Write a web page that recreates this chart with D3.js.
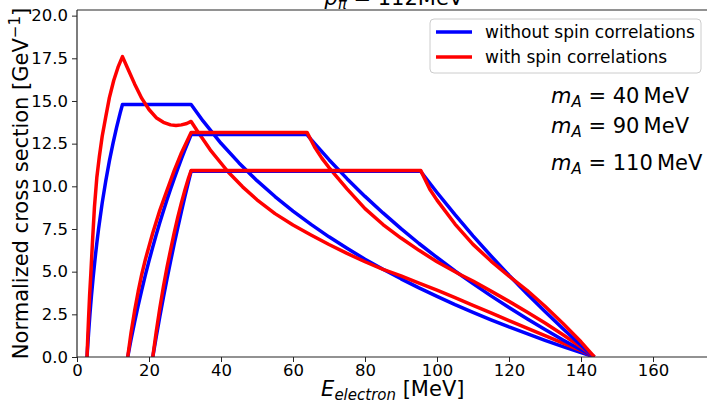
<!DOCTYPE html>
<html><head><meta charset="utf-8">
<script src="https://cdn.jsdelivr.net/npm/d3@7"></script>
<style>
body{margin:0;background:#fff}
svg{display:block;font-family:"DejaVu Sans",sans-serif}
</style>
</head><body>
<svg id="chart" width="707" height="402"></svg>
<script>
// ---- data ----
const xTicks = [0, 20, 40, 60, 80, 100, 120, 140, 160];
const yTicks = [0, 2.5, 5, 7.5, 10, 12.5, 15, 17.5, 20];
const seriesLabels = ["without spin correlations", "with spin correlations"];
const massLabels = ["40", "90", "110"];

// [E_electron (MeV), cross section (GeV^-1)]
const blue40 = [[2.784,0],[2.9,0.40],[3.0,0.73],[3.2,1.36],[3.4,1.96],[3.6,2.52],[3.8,3.05],[4.0,3.55],[4.5,4.70],[5.0,5.73],[5.5,6.66],[6.0,7.52],[7,9.03],[8,10.33],[9,11.49],[10,12.52],[11,13.45],[12,14.30],[12.63,14.79],
  [31.7,14.79],[35,13.83],[40,12.52],[45,11.37],[50,10.33],[55,9.40],[60,8.55],[65,7.77],[70,7.04],[75,6.37],[80,5.73],[85,5.14],[90,4.58],[95,4.05],[100,3.55],[105,3.07],[110,2.62],[115,2.18],[120,1.76],[125,1.37],[130,0.98],[135,0.61],[140,0.26],[143.71,0]];
const red40 = [[2.784,0],[3.0,1.2],[3.2,2.2],[3.5,3.6],[3.85,4.9],[4.3,6.75],[4.85,8.8],[5.5,10.5],[6.2,11.73],[7.0,12.93],[8.0,14.08],[9.0,15.2],[10.2,16.2],[11.4,16.98],[12.63,17.6],
  [14,16.95],[16,16.0],[18,15.15],[20,14.5],[22,14.02],[24,13.75],[26,13.6],[27.5,13.56],[29,13.6],[30.5,13.68],[31.7,13.8],
  [34,13.06],[37,12.14],[42,10.84],[46,9.97],[50,9.21],[55,8.40],[60,7.73],[65,7.15],[70,6.59],[75,6.07],[80,5.58],[85,5.14],[90,4.75],[95,4.33],[100,3.92],[105,3.48],[110,3.03],[115,2.58],[120,2.13],[125,1.69],[130,1.25],[135,0.81],[140,0.37],[143.71,0]];
const blue90 = [[14.09,0],[15,1.01],[16,2.04],[17,3.02],[18,3.94],[19,4.81],[20,5.63],[21,6.41],[22,7.16],[23,7.88],[24,8.56],[25,9.22],[26,9.85],[27,10.45],[28,11.04],[29,11.60],[30,12.15],[31,12.67],[31.7,13.03],
  [63.88,13.03],[65,12.75],[70,11.56],[75,10.45],[80,9.41],[85,8.44],[90,7.52],[95,6.65],[100,5.83],[105,5.04],[110,4.30],[115,3.58],[120,2.90],[125,2.24],[130,1.61],[135,1.00],[140,0.42],[143.71,0]];
const red90 = [[14.09,0],[15,1.4],[16,2.7],[17,3.84],[18,4.85],[19,5.72],[21,7.24],[23,8.59],[25,9.77],[27,10.92],[29,11.95],[31.7,13.16],
  [63.9,13.16],[66,12.3],[68,11.65],[70,11.1],[75,9.85],[80,8.69],[85,7.76],[90,6.97],[95,6.25],[100,5.58],[106.4,4.83],[110,4.45],[115,3.86],[120,3.26],[125,2.64],[130,1.99],[135,1.3],[140,0.59],[143.71,0]];
const blue110 = [[21.05,0],[22,1.17],[23,2.36],[24,3.49],[25,4.57],[26,5.61],[27,6.62],[28,7.58],[29,8.52],[30,9.42],[31,10.29],[31.7,10.88],
  [95.44,10.88],[100,9.64],[105,8.34],[110,7.10],[115,5.92],[120,4.79],[125,3.71],[130,2.67],[135,1.66],[140,0.69],[143.71,0]];
const red110 = [[21.05,0],[22,1.46],[23,2.86],[24,4.12],[25,5.26],[26,6.28],[27,7.28],[28,8.19],[29,9.03],[30,9.8],[31,10.5],[31.7,10.92],
  [95.5,10.92],[98,9.83],[100,9.19],[105,7.79],[110,6.6],[115,5.62],[120,4.74],[125,3.91],[130,2.97],[135,1.96],[140,0.89],[143.71,0]];

// ---- drawing ----
const BLUE = "#0000ff", RED = "#ff0000";
const svg = d3.select("#chart");
const L = 77, R = 710.6, T = 10, B = 357;
const x = d3.scaleLinear().domain([0, 176]).range([L, R]);
const y = d3.scaleLinear().domain([0, 20.33]).range([B, T]);

svg.append("defs").append("clipPath").attr("id", "clip")
  .append("rect").attr("x", L).attr("y", T).attr("width", R - L).attr("height", B - T);

const line = d3.line().x(d => x(d[0])).y(d => y(d[1]));
const series = [
  {data: blue40, color: BLUE}, {data: red40, color: RED},
  {data: blue90, color: BLUE}, {data: red90, color: RED},
  {data: blue110, color: BLUE}, {data: red110, color: RED}
];
const plot = svg.append("g").attr("clip-path", "url(#clip)");
series.forEach(s => {
  plot.append("path").datum(s.data).attr("d", line)
    .attr("fill", "none").attr("stroke", s.color).attr("stroke-width", 3.5)
    .attr("stroke-linejoin", "round").attr("stroke-linecap", "butt");
});

// axes
const axisColor = "#262626";
const xAxis = svg.append("g").attr("transform", `translate(0,${B})`)
  .call(d3.axisBottom(x).tickValues(xTicks).tickSize(5).tickPadding(2).tickFormat(d3.format("d")));
const yAxis = svg.append("g").attr("transform", `translate(${L},0)`)
  .call(d3.axisLeft(y).tickValues(yTicks).tickSize(5).tickPadding(4).tickFormat(d3.format(".1f")));
[xAxis, yAxis].forEach(a => {
  a.select(".domain").remove();
  a.selectAll(".tick line").attr("stroke", axisColor).attr("stroke-width", 1);
  a.selectAll(".tick text").attr("fill", "#000").style("font-size", "16.5px")
    .style("font-family", "'DejaVu Sans', sans-serif");
});
// spines
svg.append("line").attr("x1", L).attr("x2", L).attr("y1", T).attr("y2", B).attr("stroke", axisColor).attr("stroke-width", 1.2);
svg.append("line").attr("x1", L).attr("x2", R).attr("y1", B).attr("y2", B).attr("stroke", axisColor).attr("stroke-width", 1.2);
svg.append("line").attr("x1", L).attr("x2", R).attr("y1", T).attr("y2", T).attr("stroke", axisColor).attr("stroke-width", 1.2);
svg.append("line").attr("x1", R).attr("x2", R).attr("y1", T).attr("y2", B).attr("stroke", axisColor).attr("stroke-width", 1.2);

// title (mostly cut off at the top)
const title = svg.append("text").attr("x", (L + R) / 2).attr("y", 5)
  .attr("text-anchor", "middle").style("font-size", "21px");
title.append("tspan").style("font-style", "italic").text("p");
title.append("tspan").style("font-style", "italic").style("font-size", "15px").attr("dy", 4).text("π");
title.append("tspan").attr("dy", -4).text(" = 112MeV");

// x label
const xl = svg.append("text").attr("x", (L + R) / 2 - 1).attr("y", 396)
  .attr("text-anchor", "middle").style("font-size", "21px");
xl.append("tspan").style("font-style", "italic").text("E");
xl.append("tspan").style("font-style", "italic").style("font-size", "15px").attr("dy", 4).text("electron");
xl.append("tspan").attr("dy", -4).text(" [MeV]");

// y label
const yl = svg.append("text").attr("transform", `translate(28,${(T + B) / 2}) rotate(-90)`)
  .attr("text-anchor", "middle").style("font-size", "21px");
yl.append("tspan").text("Normalized cross section [GeV");
yl.append("tspan").style("font-size", "15px").attr("dy", -8).text("−1");
yl.append("tspan").attr("dy", 8).text("]");

// legend
const lg = svg.append("g");
lg.append("rect").attr("x", 430).attr("y", 19).attr("width", 271).attr("height", 54).attr("rx", 4)
  .attr("fill", "#fff").attr("fill-opacity", 0.8).attr("stroke", "#cccccc").attr("stroke-width", 1);
[BLUE, RED].forEach((c, i) => {
  const yy = 32 + i * 25;
  lg.append("line").attr("x1", 436).attr("x2", 472).attr("y1", yy).attr("y2", yy)
    .attr("stroke", c).attr("stroke-width", 3.5);
  lg.append("text").attr("x", 485).attr("y", yy + 6).style("font-size", "17px").text(seriesLabels[i]);
});

// mass annotations
const annY = [103, 133, 170];
massLabels.forEach((m, i) => {
  const t = svg.append("text").attr("x", 551).attr("y", annY[i]).style("font-size", "21px");
  t.append("tspan").style("font-style", "italic").text("m");
  t.append("tspan").style("font-style", "italic").style("font-size", "15px").attr("dy", 4).text("A");
  t.append("tspan").attr("dy", -4).text(" = " + m + "\u2009MeV");
});
</script>
</body></html>
